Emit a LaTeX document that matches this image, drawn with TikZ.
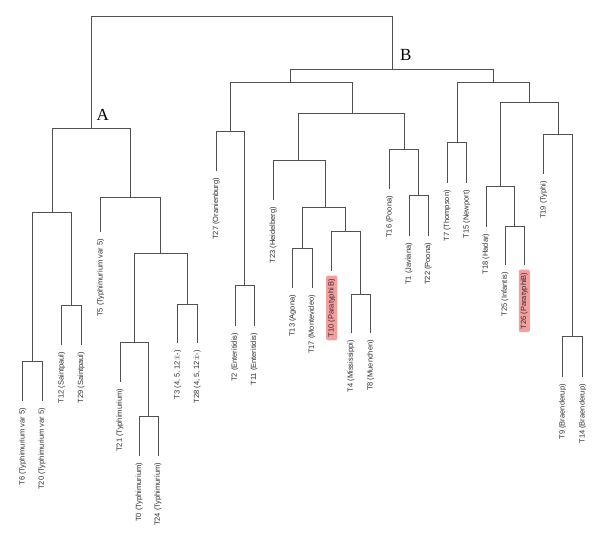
\documentclass[tikz,border=0pt]{standalone}
\usepackage{fontspec}
\setmainfont{Liberation Serif}
\newfontfamily\leaffont{Liberation Sans}
\usepackage{xcolor}
\usepackage{tikz}

\definecolor{linegray}{RGB}{80,80,80}
\definecolor{textgray}{RGB}{45,45,45}
\definecolor{hlred}{RGB}{246,158,158}

\begin{document}
\begin{tikzpicture}[x=1pt, y=-1pt,
        link/.style={draw=linegray, line width=0.9pt},
        leaf/.style={rotate=90, anchor=east, inner sep=1pt, outer sep=6pt, text=textgray, font=\leaffont\fontsize{7.5}{9}\selectfont},
        hilite/.style={leaf, fill=hlred, rounded corners=2pt, inner xsep=3pt, inner ysep=2pt, outer sep=4.5pt},
        clade/.style={font=\fontsize{17}{20}\selectfont}]

        \useasboundingbox (0,0) rectangle (600,541);

        % junctions of the tree
        \coordinate (root) at (241.5,16.7);
        \coordinate (nA) at (91,128);
        \coordinate (a1) at (52.3,212);
        \coordinate (a11) at (32.4,361.7);
        \coordinate (a12) at (71.5,305);
        \coordinate (a2) at (130.3,197.7);
        \coordinate (a22) at (160.3,253);
        \coordinate (a221) at (134,342.7);
        \coordinate (a2212) at (148.6,416.7);
        \coordinate (a222) at (187.5,304);
        \coordinate (nB) at (392,69.5);
        \coordinate (b1) at (290.8,82.3);
        \coordinate (b11) at (230.4,131.7);
        \coordinate (b112) at (244.7,285);
        \coordinate (b12) at (352,113.7);
        \coordinate (b121) at (298.9,160.7);
        \coordinate (b1212) at (325,207.7);
        \coordinate (b12121) at (302.4,248.3);
        \coordinate (b12122) at (345.9,231);
        \coordinate (b121222) at (360.8,294);
        \coordinate (b122) at (404.2,149.3);
        \coordinate (b1222) at (418.7,195.3);
        \coordinate (b2) at (493,82.3);
        \coordinate (b21) at (457,142.5);
        \coordinate (b22) at (529.5,102.3);
        \coordinate (b221) at (500.5,186.7);
        \coordinate (b2212) at (514.7,226);
        \coordinate (b222) at (558.3,134.3);
        \coordinate (b2222) at (572.7,336.7);

        % leaves
        \node (t6) [leaf] at (22.7,401) {T6 (Typhimurium var 5)};
        \node (t20) [leaf] at (42,401) {T20 (Typhimurium var 5)};
        \node (t12) [leaf] at (61.7,345) {T12 (Saintpaul)};
        \node (t29) [leaf] at (81.3,345) {T29 (Saintpaul)};
        \node (t5) [leaf] at (100.7,232.3) {T5 (Typhimurium var 5)};
        \node (t21) [leaf] at (120,381.7) {T21 (Typhimurium)};
        \node (t0) [leaf] at (139.3,456) {T0 (Typhimurium)};
        \node (t24) [leaf] at (158,456) {T24 (Typhimurium)};
        \node (t3) [leaf] at (177.7,343) {T3 (4, 5, 12:i:-)};
        \node (t28) [leaf] at (197.3,343) {T28 (4, 5, 12:i:-)};
        \node (t27) [leaf] at (216.2,171) {T27 (Oranienburg)};
        \node (t2) [leaf] at (235,326) {T2 (Enteritidis)};
        \node (t11) [leaf] at (254.3,326) {T11 (Enteritidis)};
        \node (t23) [leaf] at (273.3,200) {T23 (Heidelberg)};
        \node (t13) [leaf] at (292.7,288) {T13 (Agona)};
        \node (t17) [leaf] at (312,288) {T17 (Montevideo)};
        \node (t10) [hilite] at (331.7,271) {T10 (Paratyphi B)};
        \node (t4) [leaf] at (351,333) {T4 (Mississippi)};
        \node (t8) [leaf] at (370.7,333) {T8 (Muenchen)};
        \node (t16) [leaf] at (389.8,189) {T16 (Poona)};
        \node (t1) [leaf] at (409,236) {T1 (Javiana)};
        \node (t22) [leaf] at (428.3,236) {T22 (Poona)};
        \node (t7) [leaf] at (447.3,183.3) {T7 (Thompson)};
        \node (t15) [leaf] at (466.7,183.3) {T15 (Newport)};
        \node (t18) [leaf] at (486,226.7) {T18 (Hadar)};
        \node (t25) [leaf] at (505,265) {T25 (Infantis)};
        \node (t26) [hilite] at (524.3,265) {T26 (ParatyphiB)};
        \node (t19) [leaf] at (543.7,174) {T19 (Typhi)};
        \node (t9) [leaf] at (562.7,377.3) {T9 (Braenderup)};
        \node (t14) [leaf] at (582.7,377.3) {T14 (Braenderup)};

        % clade names
        \node (labA) [clade] at (102.7,115) {A};
        \node (labB) [clade] at (405.7,55) {B};

        % branches
        \draw[link] (root) -| (nA);
        \draw[link] (root) -| (nB);

        \draw[link] (nA) -| (a1);
        \draw[link] (nA) -| (a2);
        \draw[link] (a1) -| (a11);
        \draw[link] (a1) -| (a12);
        \draw[link] (a11) -| (t6);
        \draw[link] (a11) -| (t20);
        \draw[link] (a12) -| (t12);
        \draw[link] (a12) -| (t29);
        \draw[link] (a2) -| (t5);
        \draw[link] (a2) -| (a22);
        \draw[link] (a22) -| (a221);
        \draw[link] (a22) -| (a222);
        \draw[link] (a221) -| (t21);
        \draw[link] (a221) -| (a2212);
        \draw[link] (a2212) -| (t0);
        \draw[link] (a2212) -| (t24);
        \draw[link] (a222) -| (t3);
        \draw[link] (a222) -| (t28);

        \draw[link] (nB) -| (b1);
        \draw[link] (nB) -| (b2);
        \draw[link] (b1) -| (b11);
        \draw[link] (b1) -| (b12);
        \draw[link] (b11) -| (t27);
        \draw[link] (b11) -| (b112);
        \draw[link] (b112) -| (t2);
        \draw[link] (b112) -| (t11);
        \draw[link] (b12) -| (b121);
        \draw[link] (b12) -| (b122);
        \draw[link] (b121) -| (t23);
        \draw[link] (b121) -| (b1212);
        \draw[link] (b1212) -| (b12121);
        \draw[link] (b1212) -| (b12122);
        \draw[link] (b12121) -| (t13);
        \draw[link] (b12121) -| (t17);
        \draw[link] (b12122) -| (t10);
        \draw[link] (b12122) -| (b121222);
        \draw[link] (b121222) -| (t4);
        \draw[link] (b121222) -| (t8);
        \draw[link] (b122) -| (t16);
        \draw[link] (b122) -| (b1222);
        \draw[link] (b1222) -| (t1);
        \draw[link] (b1222) -| (t22);

        \draw[link] (b2) -| (b21);
        \draw[link] (b2) -| (b22);
        \draw[link] (b21) -| (t7);
        \draw[link] (b21) -| (t15);
        \draw[link] (b22) -| (b221);
        \draw[link] (b22) -| (b222);
        \draw[link] (b221) -| (t18);
        \draw[link] (b221) -| (b2212);
        \draw[link] (b2212) -| (t25);
        \draw[link] (b2212) -| (t26);
        \draw[link] (b222) -| (t19);
        \draw[link] (b222) -| (b2222);
        \draw[link] (b2222) -| (t9);
        \draw[link] (b2222) -| (t14);
    \end{tikzpicture}
\end{document}
